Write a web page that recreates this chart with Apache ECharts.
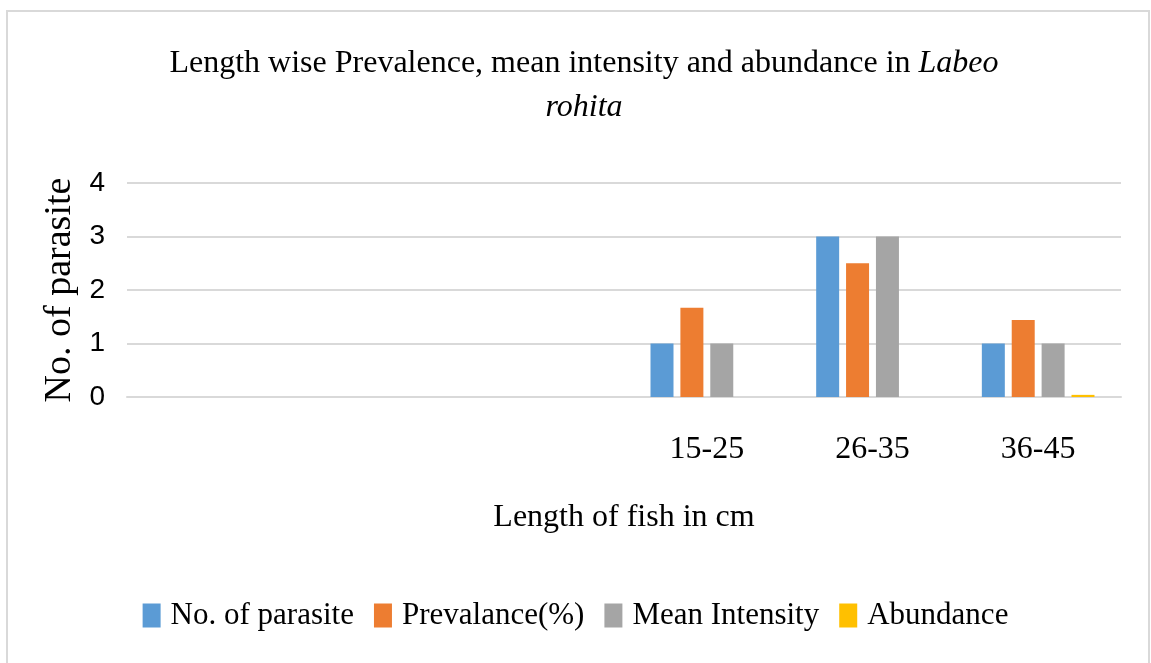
<!DOCTYPE html>
<html>
<head>
<meta charset="utf-8">
<script src="https://cdn.jsdelivr.net/npm/echarts@6/dist/echarts.min.js"></script>
<style>
  html, body { margin: 0; padding: 0; background: #fff; }
  #chart { width: 1151px; height: 663px; }
</style>
</head>
<body>
<div id="chart"></div>
<script>
// length classes (first three slots are empty in the source chart)
const lengthClasses = ['', '', '', '15-25', '26-35', '36-45'];
const noOfParasite = [null, null, null, 1, 3, 1];
const prevalence = [null, null, null, 1.67, 2.5, 1.44];
const meanIntensity = [null, null, null, 1, 3, 1];
const abundance = [null, null, null, 0, 0, 0.04];
const yTicks = [0, 1, 2, 3, 4];

const serif = "'Liberation Serif', 'Times New Roman', serif";
const chart = echarts.init(document.getElementById('chart'));

const option = {
    backgroundColor: '#fff',
    color: ['#5B9BD5', '#ED7D31', '#A5A5A5', '#FFC000'],
    title: {
        text: 'Length wise Prevalence, mean intensity and abundance in {i|Labeo}\n{i|rohita}',
        left: 584,
        top: 42,
        padding: 0,
        textAlign: 'center',
        textStyle: {
            fontFamily: serif,
            fontSize: 32,
            fontWeight: 'normal',
            color: '#000',
            lineHeight: 44,
            rich: {
                i: { fontFamily: serif, fontSize: 32, fontStyle: 'italic', color: '#000', lineHeight: 44 }
            }
        }
    },
    graphic: [{
        type: 'rect',
        shape: { x: 7, y: 11, width: 1142, height: 700 },
        style: { fill: 'none', stroke: '#d9d9d9', lineWidth: 2 },
        silent: true
    }],
    legend: {
        bottom: 27,
        left: 'center',
        itemWidth: 18,
        itemHeight: 24,
        itemGap: 20,
        icon: 'rect',
        textStyle: {
            fontFamily: serif,
            fontSize: 31,
            color: '#000',
            padding: [0, 0, 0, 5]
        }
    },
    grid: {
        left: 127,
        right: 30,
        top: 183,
        bottom: 266
    },
    xAxis: {
        type: 'category',
        data: lengthClasses,
        axisTick: { show: false },
        axisLine: { lineStyle: { color: '#d9d9d9', width: 2 } },
        axisLabel: {
            fontFamily: serif,
            fontSize: 32,
            color: '#000',
            margin: 37
        },
        name: 'Length of fish in cm',
        nameLocation: 'middle',
        nameGap: 105,
        nameTextStyle: { fontFamily: serif, fontSize: 32, color: '#000' }
    },
    yAxis: {
        type: 'value',
        min: yTicks[0],
        max: yTicks[yTicks.length - 1],
        interval: 1,
        axisLabel: {
            fontFamily: "'Liberation Sans Narrow', 'Liberation Sans', sans-serif",
            fontSize: 28,
            color: '#000',
            margin: 22
        },
        splitLine: { lineStyle: { color: '#d9d9d9', width: 2 } },
        name: 'No. of parasite',
        nameLocation: 'middle',
        nameGap: 48,
        nameTextStyle: { fontFamily: serif, fontSize: 38, color: '#000' }
    },
    series: [
        { name: 'No. of parasite', type: 'bar', data: noOfParasite, barGap: '30%', barCategoryGap: '32%' },
        { name: 'Prevalance(%)', type: 'bar', data: prevalence },
        { name: 'Mean Intensity', type: 'bar', data: meanIntensity },
        { name: 'Abundance', type: 'bar', data: abundance }
    ]
};
chart.setOption(option);
</script>
</body>
</html>
